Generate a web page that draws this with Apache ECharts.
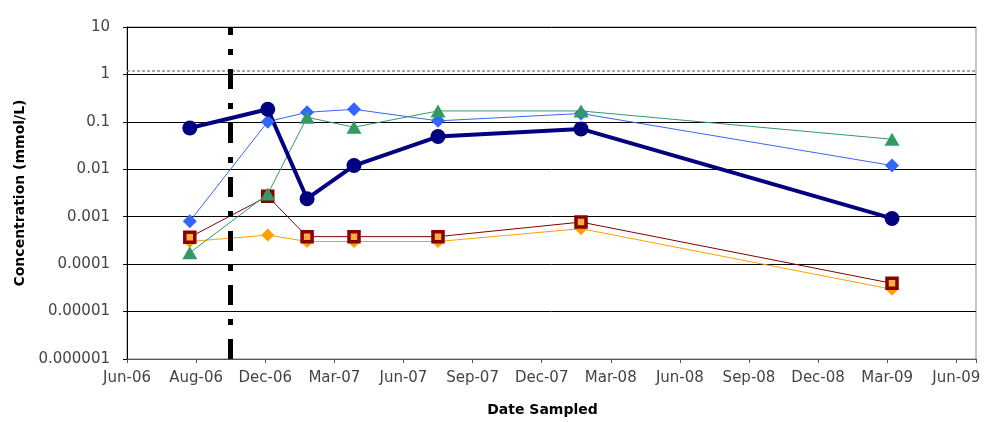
<!DOCTYPE html>
<html>
<head>
<meta charset="utf-8">
<script src="https://cdn.jsdelivr.net/npm/echarts@6/dist/echarts.min.js"></script>
<style>html,body{margin:0;padding:0;background:#fff;}#chart{width:989px;height:422px;}</style>
</head>
<body>
<div id="chart"></div>
<script>
// ---- data ----
const axisStartDate = '2006-06-01';
const lastTickDate = '2009-06-01';
const axisEndDate = '2009-06-27';
const xTickCount = 12;
const xTickLabels = ['Jun-06','Aug-06','Dec-06','Mar-07','Jun-07','Sep-07','Dec-07','Mar-08','Jun-08','Sep-08','Dec-08','Mar-09','Jun-09'];
const yTickLabels = ['0.000001','0.00001','0.0001','0.001','0.01','0.1','1','10'];
const sampleDates = ['2006-08-23','2006-12-04','2007-01-25','2007-03-28','2007-07-17','2008-01-22','2009-03-08'];
const navyValues   = [0.074, 0.184, 0.0024, 0.012, 0.049, 0.071, 0.00092];
const blueValues   = [0.0008, 0.101, 0.159, 0.184, 0.105, 0.15, 0.012];
const greenValues  = [0.000174, 0.003, 0.125, 0.077, 0.17, 0.17, 0.043];
const redValues    = [0.00037, 0.0027, 0.00038, 0.00038, 0.00038, 0.00077, 0.0000394];
const orangeValues = [0.0003, 0.00041, 0.0003, 0.0003, 0.0003, 0.00056, 0.0000295];
const treatmentDate = '2006-10-16';
const guidelineValue = 1.2;

// ---- helpers ----
const DAY = 86400000;
const dayOf = d => (Date.parse(d) - Date.parse(axisStartDate)) / DAY;
const tickInterval = dayOf(lastTickDate) / xTickCount;
const pairs = vals => sampleDates.map((d, i) => [dayOf(d), vals[i]]);

const FONT = 'DejaVu Sans';
const chart = echarts.init(document.getElementById('chart'), null, {renderer: 'canvas'});

function lineSeries(name, vals, color, width, symbol, size, extra) {
  return Object.assign({
    name: name,
    type: 'line',
    data: pairs(vals),
    symbol: symbol,
    symbolSize: size,
    showSymbol: true,
    lineStyle: {color: color, width: width},
    itemStyle: {color: color},
    emphasis: {disabled: true},
    animation: false
  }, extra || {});
}

const option = {
  animation: false,
  grid: {left: 127, right: 13, top: 27, bottom: 62, show: true, borderColor: '#8a8a8a', borderWidth: 1, containLabel: false},
  xAxis: {
    type: 'value',
    min: 0,
    max: dayOf(axisEndDate),
    interval: tickInterval,
    name: 'Date Sampled',
    nameLocation: 'middle',
    nameGap: 44,
    nameTextStyle: {fontFamily: FONT, fontWeight: 'bold', fontSize: 14, color: '#000', padding: [0, 18, 0, 0]},
    axisLine: {show: true, lineStyle: {color: '#555', width: 1}},
    axisTick: {show: true, inside: false, length: 4, lineStyle: {color: '#555'}},
    splitLine: {show: false},
    axisLabel: {
      fontFamily: FONT, fontSize: 15, color: '#444', margin: 12,
      formatter: function (v) {
        const k = Math.round(v / tickInterval);
        if (Math.abs(v - k * tickInterval) > 1 || k < 0 || k >= xTickLabels.length) return '';
        return xTickLabels[k];
      }
    }
  },
  yAxis: {
    type: 'log',
    logBase: 10,
    min: 1e-6,
    max: 10,
    interval: 1,
    name: 'Concentration (mmol/L)',
    nameLocation: 'middle',
    nameGap: 98,
    nameRotate: 90,
    nameTextStyle: {fontFamily: FONT, fontWeight: 'bold', fontSize: 14, color: '#000'},
    axisLine: {show: true, lineStyle: {color: '#000', width: 1}},
    axisTick: {show: true, inside: false, length: 4, lineStyle: {color: '#000'}},
    splitLine: {show: true, lineStyle: {color: '#000', width: 1}},
    axisLabel: {
      fontFamily: FONT, fontSize: 15, color: '#444', margin: 17,
      formatter: function (v) {
        const k = Math.round(Math.log10(v)) + 6;
        return yTickLabels[k] !== undefined ? yTickLabels[k] : '';
      }
    }
  },
  series: [
    lineSeries('Series 5', orangeValues, '#FFA000', 1, 'diamond', [13, 13], {
      markLine: {
        silent: true, symbol: 'none', animation: false,
        label: {show: false},
        data: [
          {yAxis: guidelineValue, lineStyle: {color: '#8c8c8c', width: 1.5, type: [3, 2]}},
          {xAxis: dayOf(treatmentDate), lineStyle: {color: '#000', width: 5, type: [20, 14, 6, 14]}}
        ]
      }
    }),
    lineSeries('Series 4', redValues, '#800000', 1, 'rect', 10, {
      itemStyle: {color: '#F5B040', borderColor: '#8B0000', borderWidth: 3.5}
    }),
    lineSeries('Series 2', blueValues, '#3366FF', 1, 'diamond', [14, 14]),
    lineSeries('Series 3', greenValues, '#339966', 1, 'triangle', [15, 13]),
    lineSeries('Series 1', navyValues, '#000080', 4, 'circle', 15)
  ]
};
chart.setOption(option);
</script>
</body>
</html>
